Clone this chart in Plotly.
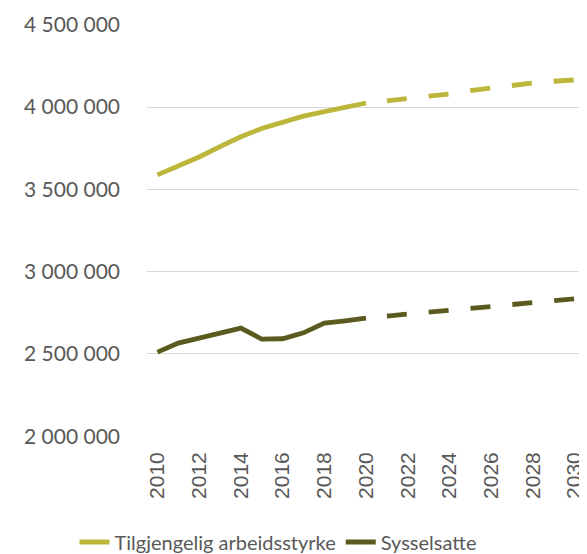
import plotly.graph_objects as go

years = list(range(2010, 2031))
last_hist_year = 2020

arbeidsstyrke = [3588000, 3640000, 3697000, 3760000, 3820000, 3870000, 3910000,
                 3945000, 3972000, 4000000, 4025000, 4038000, 4050000, 4065000,
                 4080000, 4100000, 4117000, 4133000, 4147000, 4157000, 4165000]
sysselsatte = [2511000, 2566000, 2596000, 2627000, 2657000, 2590000, 2592000,
               2628000, 2687000, 2701000, 2717000, 2730000, 2742000, 2752000,
               2762000, 2777000, 2791000, 2804000, 2817000, 2827000, 2835000]

names = ["Tilgjengelig arbeidsstyrke", "Sysselsatte"]
colors = ["#BCB63B", "#5C5B1F"]
y_ticks = [2000000, 2500000, 3000000, 3500000, 4000000, 4500000]
x_ticks = list(range(2010, 2031, 2))

FONT = "Lato"
XFONT = "Liberation Sans"
GRAY = "#595959"

# page body has an 8px margin, so the figure is sized to fit the 587x554 window
W, H = 579, 546

fig = go.Figure()
for name, vals, col in zip(names, [arbeidsstyrke, sysselsatte], colors):
    hx = [y for y in years if y <= last_hist_year]
    hv = [v for y, v in zip(years, vals) if y <= last_hist_year]
    px_ = [y for y in years if y > last_hist_year]
    pv = [v for y, v in zip(years, vals) if y > last_hist_year]
    fig.add_trace(go.Scatter(x=hx, y=hv, mode="lines", name=name, legendgroup=name,
                             line=dict(color=col, width=4.8)))
    fig.add_trace(go.Scatter(x=px_, y=pv, mode="lines", name=name, legendgroup=name,
                             showlegend=False,
                             line=dict(color=col, width=4.8, dash="20px,22px")))

fig.update_layout(
    width=W, height=H,
    margin=dict(l=139, r=2, t=16, b=117),
    paper_bgcolor="white", plot_bgcolor="white",
    separators=", ",
    font=dict(family=FONT, size=21, color=GRAY),
    showlegend=True,
    legend=dict(orientation="h", xref="container", yref="container",
                x=(278 - 8) / W, xanchor="center", y=(554 - 542) / H, yanchor="middle",
                font=dict(family=FONT, size=20, color=GRAY),
                tracegroupgap=0),
)
fig.update_yaxes(range=[1995000, 4505000], tickvals=y_ticks, tickformat=",d",
                 showgrid=True, gridcolor="#D9D9D9", gridwidth=1.3,
                 zeroline=False, showline=False, ticks="",
                 ticklabelstandoff=26, automargin=False,
                 tickfont=dict(family=FONT, size=21, color=GRAY))
fig.update_xaxes(range=[2009.5, 2030.5], tickvals=x_ticks, tickangle=-90,
                 showgrid=False, zeroline=False, showline=False, ticks="",
                 ticklabelstandoff=10, automargin=False, ticklabeloverflow="allow",
                 tickfont=dict(family=XFONT, size=21, color=GRAY))

fig.write_html("out.html")
